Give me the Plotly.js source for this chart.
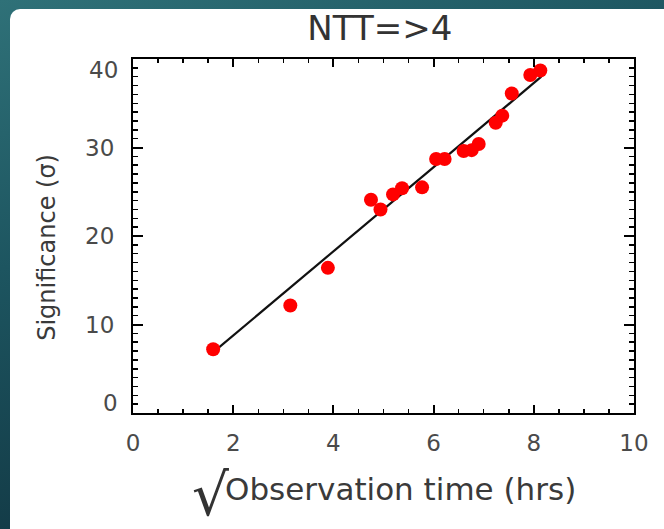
<!DOCTYPE html>
<html>
<head>
<meta charset="utf-8">
<script src="https://cdn.plot.ly/plotly-3.0.1.min.js"></script>
<style>
  html, body { margin: 0; padding: 0; }
  body {
    width: 664px; height: 529px; overflow: hidden; position: relative;
    background: linear-gradient(160deg, #2f7178 0%, #1d5560 35%, #123844 75%, #0d2c36 100%);
  }
  #panel {
    position: absolute; left: 10px; top: 9px; width: 664px; height: 540px;
    background: #ffffff; border-top-left-radius: 10px;
  }
  #chart { position: absolute; left: 0; top: 0; width: 664px; height: 529px; }
</style>
</head>
<body>
<div id="panel"></div>
<div id="chart"></div>
<script>
// sqrt(observation time) in hours^(1/2) and detection significance in sigma
const sqrtHours = [1.60, 3.14, 3.89, 4.75, 4.94, 5.19, 5.37, 5.77, 6.05, 6.22,
                   6.60, 6.76, 6.90, 7.24, 7.37, 7.56, 7.93, 8.13];
const significance = [7.2, 12.15, 16.4, 24.1, 23.0, 24.7, 25.4, 25.5, 28.7, 28.7,
                      29.6, 29.7, 30.4, 32.8, 33.6, 36.1, 38.2, 38.7];

// linear fit drawn across the measured range
const fitX = [1.61, 8.15];
const fitY = [6.9, 38.0];

const xTickVals = [0, 2, 4, 6, 8, 10];
const yTickVals = [0, 10, 20, 30, 40];

const labelFont = { family: 'DejaVu Sans, sans-serif', size: 23, color: '#4a4a4a' };
const titleFont = { family: 'DejaVu Sans, sans-serif', size: 31, color: '#3a3a3a' };

const traces = [
  {
    x: fitX, y: fitY, type: 'scatter', mode: 'lines',
    line: { color: '#111111', width: 2.2 }, hoverinfo: 'skip', showlegend: false
  },
  {
    x: sqrtHours, y: significance, type: 'scatter', mode: 'markers',
    marker: { color: '#ff0000', size: 14 }, showlegend: false
  }
];

const layout = {
  width: 664, height: 529,
  paper_bgcolor: 'rgba(0,0,0,0)',
  plot_bgcolor: '#ffffff',
  margin: { l: 133, r: 30, t: 59, b: 116 },
  showlegend: false,
  title: {
    text: 'NTT=>4',
    font: { family: 'DejaVu Sans, sans-serif', size: 34, color: '#333333' },
    x: 0.572, xanchor: 'center', y: 0.947, yanchor: 'middle'
  },
  xaxis: {
    range: [0, 10],
    tickvals: xTickVals,
    ticks: 'inside', ticklen: 8, tickwidth: 2, tickcolor: '#000',
    minor: { dtick: 0.5, ticks: 'inside', ticklen: 4, tickwidth: 1.5, tickcolor: '#000' },
    showline: true, linecolor: '#000', linewidth: 2, mirror: 'ticks',
    showgrid: false, zeroline: false,
    tickfont: labelFont, ticklabelstandoff: 8,
    automargin: false
  },
  yaxis: {
    range: [0, 40],
    tickvals: yTickVals,
    ticktext: ['', '10', '20', '30', ''],
    ticks: 'inside', ticklen: 10, tickwidth: 2, tickcolor: '#000',
    minor: { dtick: 1, ticks: 'inside', ticklen: 5, tickwidth: 1.5, tickcolor: '#000' },
    showline: true, linecolor: '#000', linewidth: 2, mirror: 'ticks',
    showgrid: false, zeroline: false,
    tickfont: labelFont, ticklabelstandoff: 12,
    automargin: false
  },
  annotations: [
    // end labels of the y axis sit just inside the frame
    { xref: 'paper', yref: 'y', x: 0, y: 0, text: '0', showarrow: false,
      xanchor: 'right', yanchor: 'middle', xshift: -13, yshift: 10, font: labelFont },
    { xref: 'paper', yref: 'y', x: 0, y: 40, text: '40', showarrow: false,
      xanchor: 'right', yanchor: 'middle', xshift: -13, yshift: -11, font: labelFont },
    // x axis title: square-root sign followed by the quantity
    { xref: 'paper', yref: 'paper', x: 0.155, y: -0.232, text: '√', showarrow: false,
      xanchor: 'center', yanchor: 'middle',
      font: { family: 'DejaVu Sans, sans-serif', size: 58, color: '#333333' } },
    { xref: 'paper', yref: 'paper', x: 0.533, y: -0.215, text: 'Observation time (hrs)',
      showarrow: false, xanchor: 'center', yanchor: 'middle', font: titleFont },
    // y axis title
    { xref: 'paper', yref: 'paper', x: -0.172, y: 0.469, text: 'Significance (σ)',
      showarrow: false, textangle: -90, xanchor: 'center', yanchor: 'middle',
      font: { family: 'DejaVu Sans, sans-serif', size: 24, color: '#3a3a3a' } }
  ]
};

Plotly.newPlot('chart', traces, layout, { staticPlot: true, displayModeBar: false });
</script>
</body>
</html>
